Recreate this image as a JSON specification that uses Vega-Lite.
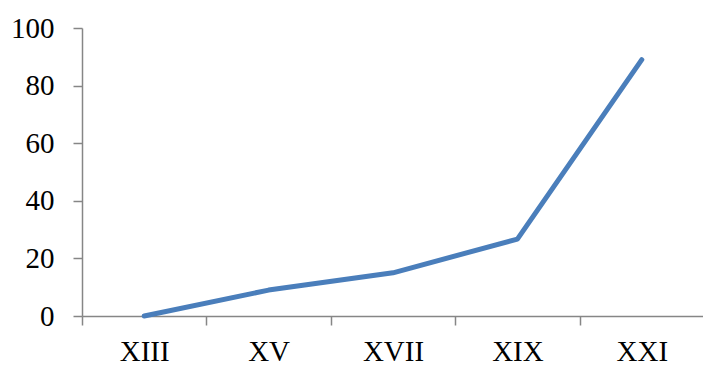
{
  "$schema": "https://vega.github.io/schema/vega-lite/v6.json",
  "width": 622,
  "height": 288,
  "autosize": {"type": "none"},
  "padding": {"left": 82, "top": 28, "right": 0, "bottom": 49},
  "background": "white",
  "config": {
    "view": {"stroke": null},
    "axis": {
      "labelFont": "Liberation Serif",
      "labelFontSize": 29,
      "labelColor": "#000000",
      "domainColor": "#868686",
      "tickColor": "#868686",
      "domainWidth": 1.5,
      "tickWidth": 1.5,
      "tickSize": 9,
      "grid": false,
      "title": null
    }
  },
  "data": {
    "values": [
      {"century": "XIII", "value": 0},
      {"century": "XV", "value": 9},
      {"century": "XVII", "value": 15},
      {"century": "XIX", "value": 26.7},
      {"century": "XXI", "value": 89}
    ]
  },
  "mark": {"type": "line", "color": "#4A7EBB", "strokeWidth": 5, "strokeCap": "round", "strokeJoin": "round"},
  "encoding": {
    "x": {
      "field": "century",
      "type": "ordinal",
      "sort": null,
      "scale": {"type": "band", "paddingInner": 0, "paddingOuter": 0},
      "axis": {"labelAngle": 0, "tickBand": "extent", "labelPadding": 12}
    },
    "y": {
      "field": "value",
      "type": "quantitative",
      "scale": {"domain": [0, 100], "nice": false},
      "axis": {"values": [0, 20, 40, 60, 80, 100], "labelPadding": 19}
    }
  }
}
